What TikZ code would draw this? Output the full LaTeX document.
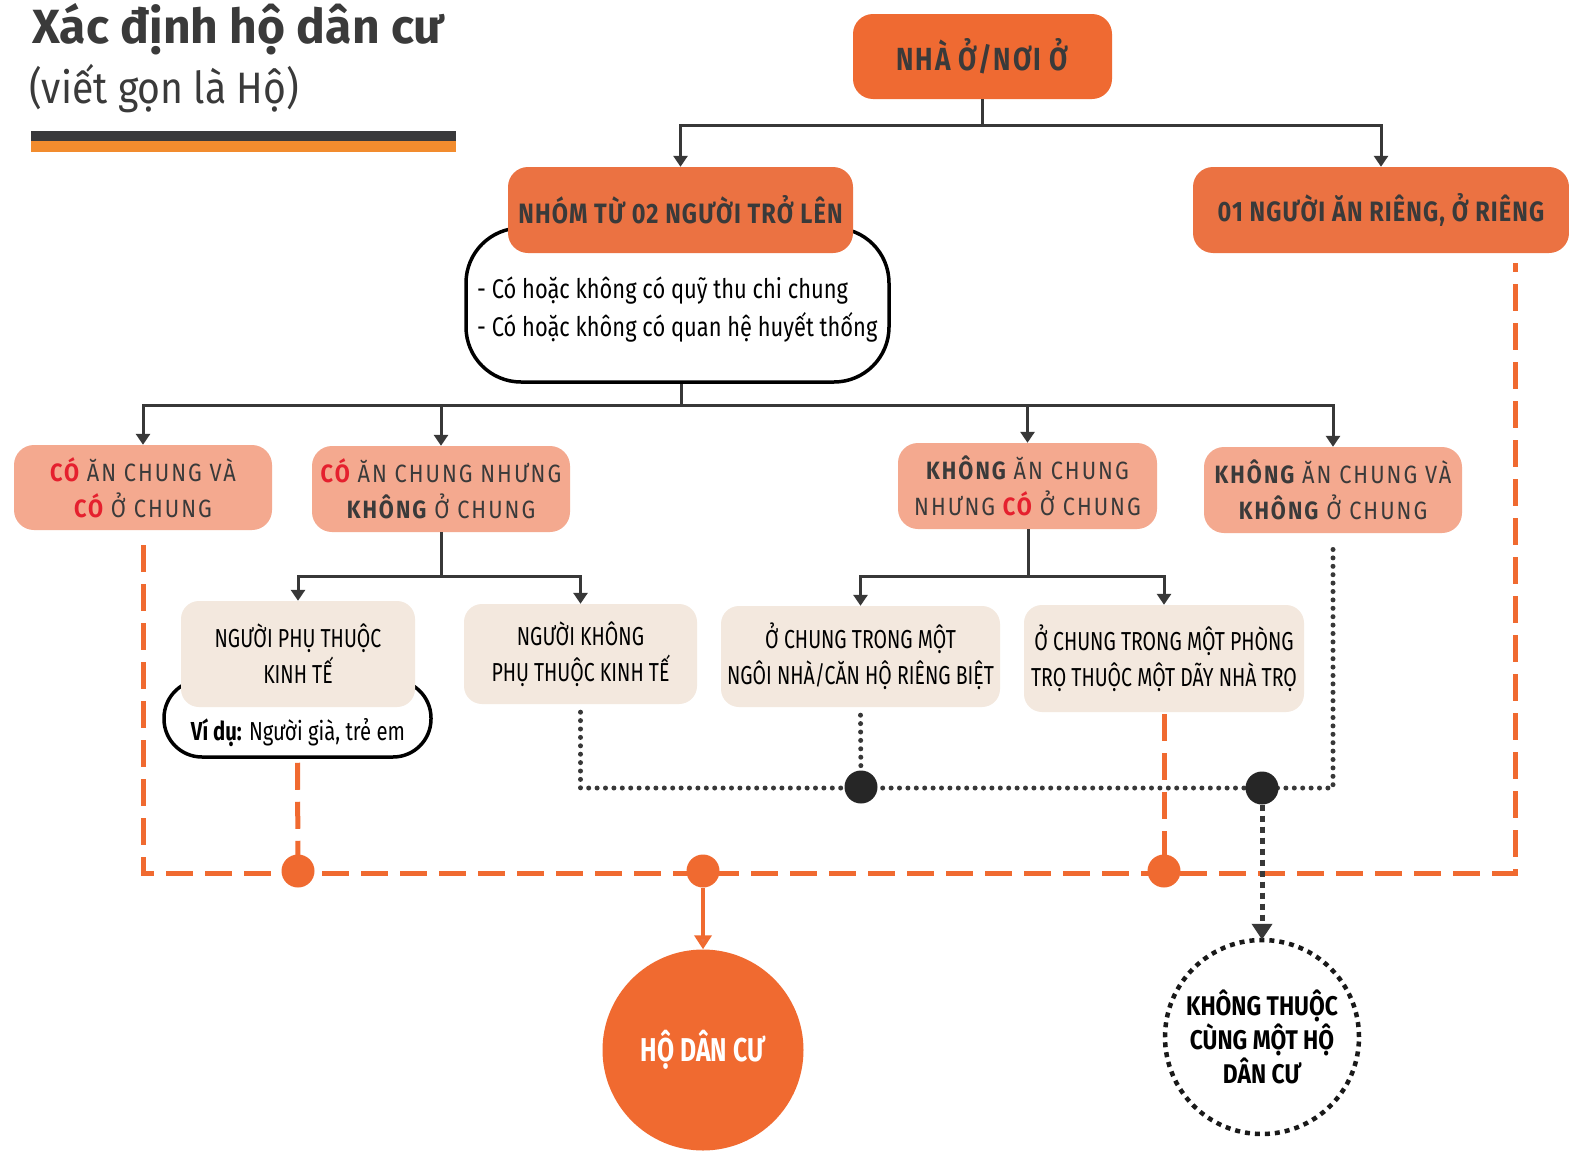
\documentclass[tikz,border=0pt]{standalone}
\usepackage{fontspec}
\setmainfont{Fira Sans}[FakeStretch=0.75]
\newfontfamily\fTitle{Fira Sans}[FakeStretch=1.0]
\newfontfamily\fSub{Fira Sans}[FakeStretch=0.89]
\newfontfamily\fOr{Fira Sans}[FakeStretch=0.84, LetterSpace=4]
\newfontfamily\fNha{Fira Sans}[FakeStretch=0.82, LetterSpace=6]
\newfontfamily\fSal{Fira Sans}[FakeStretch=0.87, LetterSpace=8]
\newfontfamily\fBei{Fira Sans}[FakeStretch=0.75]
\newfontfamily\fCrit{Fira Sans}[FakeStretch=0.81]
\newfontfamily\fVd{Fira Sans}[FakeStretch=0.78]
\newfontfamily\fKh{Fira Sans}[FakeStretch=0.845]
\usetikzlibrary{arrows.meta}
\definecolor{orA}{HTML}{EF6A32}
\definecolor{orB}{HTML}{EB7242}
\definecolor{salm}{HTML}{F4A98F}
\definecolor{beig}{HTML}{F3E8DE}
\definecolor{dk}{HTML}{3A3A3A}
\definecolor{dkbar}{HTML}{39393B}
\definecolor{barO}{HTML}{F28C2E}
\definecolor{redC}{HTML}{E5202E}
\definecolor{oc}{HTML}{F06A30}
\definecolor{lnc}{HTML}{383838}
\newcommand{\rC}[1]{{\bfseries\color{redC}#1}}
\newcommand{\kB}[1]{{\bfseries #1}}
\begin{document}
\begin{tikzpicture}[x=1pt,y=-1pt,
  obox/.style={rectangle, rounded corners=20pt, fill=orB, text=dk, inner sep=0pt,
    font=\fOr\bfseries\fontsize{28}{30}\selectfont},
  sbox/.style={rectangle, rounded corners=20pt, fill=salm, text=dk, inner sep=0pt, align=center,
    font=\fSal\fontsize{25}{36}\selectfont},
  bbox/.style={rectangle, rounded corners=18pt, fill=beig, text=black, inner sep=0pt, align=center,
    font=\fBei\fontsize{26}{36}\selectfont},
  wbox/.style={rectangle, draw=black, fill=white, line width=3.5pt, inner sep=0pt},
  arr/.style={draw=lnc, line width=3pt, -{Triangle[width=14pt,length=11pt]}},
  lnk/.style={draw=lnc, line width=3pt},
  odash/.style={draw=oc, line width=5pt, dash pattern=on 27pt off 12pt},
  kdot/.style={draw=lnc, line width=5pt, line cap=round, dash pattern=on 0pt off 8.4pt},
  odotn/.style={circle, fill=oc, minimum size=33pt, inner sep=0pt},
  kdotn/.style={circle, fill=black!85, minimum size=33pt, inner sep=0pt},
]
\clip (0,0) rectangle (1569,1151);
\fill[white] (0,0) rectangle (1569,1151);

% title
\node[anchor=base west, inner sep=0pt, text=dk, font=\fTitle\bfseries\fontsize{48}{50}\selectfont] (title) at (32,43) {Xác định hộ dân cư};
\node[anchor=base west, inner sep=0pt, text=dk, font=\fSub\fontsize{44}{46}\selectfont] (sub) at (29,103) {(viết gọn là Hộ)};
\fill[dkbar] (31,131) rectangle (456,141);
\fill[barO] (31,141) rectangle (456,152);

% top level
\node[obox, fill=orA, minimum width=259pt, minimum height=85pt, font=\fNha\bfseries\fontsize{32}{34}\selectfont] (nha) at (982.5,56.5) {NHÀ Ở/NƠI Ở};
\node[wbox, rounded corners=55pt, minimum width=423pt, minimum height=154pt] (crit) at (677.5,305) {};
\node[obox, minimum width=345pt, minimum height=86pt] (nhom) at (680.5,210) {NHÓM TỪ 02 NGƯỜI TRỞ LÊN};
\node[obox, minimum width=376pt, minimum height=86pt] (rieng) at (1381,210) {01 NGƯỜI ĂN RIÊNG, Ở RIÊNG};
\node[anchor=base west, inner sep=0pt, text=black, font=\fCrit\fontsize{27}{30}\selectfont] (ct1) at (477,298) {- Có hoặc không có quỹ thu chi chung};
\node[anchor=base west, inner sep=0pt, text=black, font=\fCrit\fontsize{27}{30}\selectfont] (ct2) at (477,336) {- Có hoặc không có quan hệ huyết thống};

% level 3
\node[sbox, minimum width=258pt, minimum height=85pt] (b1) at (143,487.5) {\rC{CÓ} ĂN CHUNG VÀ\\\rC{CÓ} Ở CHUNG};
\node[sbox, minimum width=258pt, minimum height=86pt] (b2) at (441,489) {\rC{CÓ} ĂN CHUNG NHƯNG\\\kB{KHÔNG} Ở CHUNG};
\node[sbox, minimum width=259pt, minimum height=86pt] (b3) at (1027.5,486) {\kB{KHÔNG} ĂN CHUNG\\NHƯNG \rC{CÓ} Ở CHUNG};
\node[sbox, minimum width=258pt, minimum height=86pt] (b4) at (1333,490) {\kB{KHÔNG} ĂN CHUNG VÀ\\\kB{KHÔNG} Ở CHUNG};

% level 4
\node[wbox, rounded corners=38pt, minimum width=267pt, minimum height=77pt] (vidu) at (297.5,718.5) {};
\node[bbox, minimum width=234pt, minimum height=106pt] (b5) at (298,654) {NGƯỜI PHỤ THUỘC\\KINH TẾ};
\node[inner sep=0pt, text=black, font=\fVd\fontsize{26}{30}\selectfont] (vt) at (298,733) {\textbf{Ví dụ:} Người già, trẻ em};
\node[bbox, minimum width=233pt, minimum height=100pt] (b6) at (580.5,654) {NGƯỜI KHÔNG\\PHỤ THUỘC KINH TẾ};
\node[bbox, minimum width=279pt, minimum height=101pt] (b7) at (860.5,656.5) {Ở CHUNG TRONG MỘT\\NGÔI NHÀ/CĂN HỘ RIÊNG BIỆT};
\node[bbox, minimum width=280pt, minimum height=107pt] (b8) at (1164,658.5) {Ở CHUNG TRONG MỘT PHÒNG\\TRỌ THUỘC MỘT DÃY NHÀ TRỌ};

% results
\node[circle, fill=oc, minimum size=201pt, inner sep=0pt, text=white, font=\bfseries\fontsize{33}{34}\selectfont] (ho) at (703,1050) {HỘ DÂN CƯ};
\node[circle, draw=black!90, line width=4.5pt, dash pattern=on 5pt off 5pt, minimum size=194pt, inner sep=0pt, align=center, text=black, font=\fKh\bfseries\fontsize{27}{34}\selectfont] (khong) at (1262,1037) {KHÔNG THUỘC\\CÙNG MỘT HỘ\\DÂN CƯ};

% junctions
\coordinate (j1) at (982,125);
\coordinate (j2) at (681,405);
\coordinate (j3) at (441,576);
\coordinate (j4) at (1028,576);
\draw[lnk] (j1 |- nha.south) -- (j1);
\draw[arr] (j1) -| (nhom.north);
\draw[arr] (j1) -| (rieng.north);
\draw[lnk] (j2 |- crit.south) -- (j2);
\draw[arr] (j2) -| (b1.north);
\draw[arr] (j2) -| (b2.north);
\draw[arr] (j2) -| (b3.north);
\draw[arr] (j2) -| (b4.north);
\draw[lnk] (j3 |- b2.south) -- (j3);
\draw[arr] (j3) -| (b5.north);
\draw[arr] (j3) -| (b6.north);
\draw[lnk] (j4 |- b3.south) -- (j4);
\draw[arr] (j4) -| (b7.north);
\draw[arr] (j4) -| (b8.north);

% orange dashed
\coordinate (oc1) at (1515,873);
\coordinate (rtop) at (1515,263);
\draw[odash] ([yshift=-15pt]b1.south) |- (oc1) -- (rtop);
\draw[odash] ([yshift=-4pt]vidu.south) -- (298,871);
\draw[odash] ([yshift=-2pt]b8.south) -- (1164,871);

% black dotted
\coordinate (kc) at (1333,788);
\draw[kdot] ([yshift=-8pt]b6.south) |- (kc) -- ([yshift=-14pt]b4.south);
\draw[kdot] ([yshift=-8pt]b7.south) -- (861,787);

\node[odotn] (od1) at (298,871) {};
\node[odotn] (od2) at (703,871) {};
\node[odotn] (od3) at (1164,871) {};
\node[kdotn] (kd1) at (861,787) {};
\node[kdotn] (kd2) at (1262,788) {};

\draw[draw=oc, line width=4pt, -{Triangle[width=17pt,length=14pt,fill=orB]}] (od2.south) -- (ho.north);
\draw[draw=lnc, line width=5pt, dash pattern=on 6pt off 5pt, -{Triangle[width=20pt,length=16pt]}] (kd2.south) -- ([yshift=-2pt]khong.north);
\end{tikzpicture}
\end{document}
